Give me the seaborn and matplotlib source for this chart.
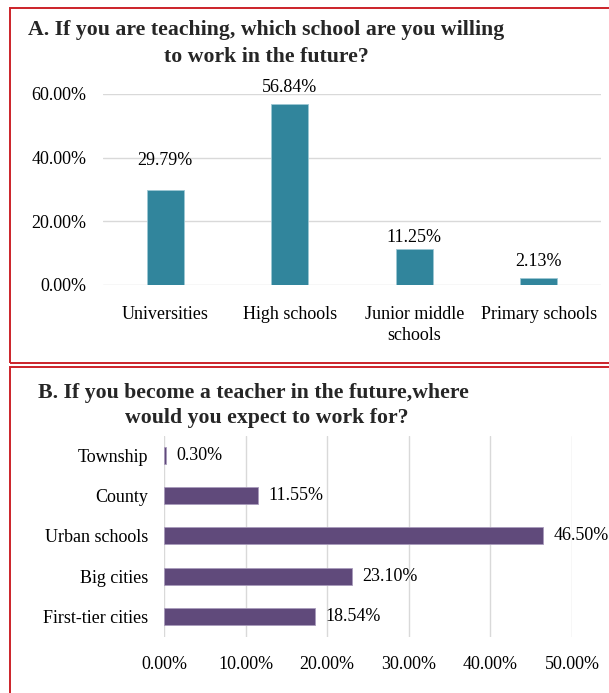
import matplotlib
matplotlib.use("Agg")
import matplotlib.pyplot as plt
import seaborn as sns
import pandas as pd
from matplotlib.patches import Rectangle
from matplotlib.ticker import FuncFormatter

# Panel A: preferred school level
school_types = ["Universities", "High schools", "Junior middle\nschools", "Primary schools"]
school_share = [29.79, 56.84, 11.25, 2.13]
school_ticks = [0, 20, 40, 60]

# Panel B: preferred work location
locations = ["Township", "County", "Urban schools", "Big cities", "First-tier cities"]
location_share = [0.30, 11.55, 46.50, 23.10, 18.54]
location_ticks = [0, 10, 20, 30, 40, 50]

sns.set_theme(style="white")
plt.rcParams["font.family"] = ["Liberation Serif", "DejaVu Serif"]

W, H = 609, 693
fig = plt.figure(figsize=(W / 100, H / 100), dpi=100)


def box(x0, y0, x1, y1):
    """Axes rectangle from pixel edges (top-left origin)."""
    return [x0 / W, 1 - y1 / H, (x1 - x0) / W, (y1 - y0) / H]


pct = FuncFormatter(lambda v, _: f"{v:.2f}%")
grid_color = "#D9D9D9"
teal = "#31859C"
purple = "#604A7B"
border_red = "#CC2229"
TICK_FS = 13
CAT_FS = 13
VAL_FS = 13
TITLE_FS = 15.7

# red frames around each panel
for (x0, y0, x1, y1) in [(10, 8, 640, 363), (10, 367, 640, 720)]:
    fig.patches.append(Rectangle((x0 / W, 1 - y1 / H), (x1 - x0) / W, (y1 - y0) / H,
                                 transform=fig.transFigure, fill=False,
                                 edgecolor=border_red, linewidth=1.4))

# ---------- Panel A ----------
df_a = pd.DataFrame({"type": school_types, "share": school_share})
ax1 = fig.add_axes(box(103, 94, 601, 285))
sns.barplot(data=df_a, x="type", y="share", order=school_types, color=teal,
            width=0.3, saturation=1, edgecolor="#9CC7D3", linewidth=0.6, ax=ax1)
ax1.set_ylim(0, 60)
ax1.set_yticks(school_ticks)
ax1.yaxis.set_major_formatter(pct)
ax1.set_xlim(-0.5, 3.5)
ax1.set_axisbelow(True)
ax1.grid(axis="y", color=grid_color, linewidth=1)
ax1.grid(axis="x", visible=False)
for s in ax1.spines.values():
    s.set_visible(False)
ax1.set_xlabel("")
ax1.set_ylabel("")
ax1.tick_params(axis="y", labelsize=TICK_FS, pad=12, length=0, colors="#000000")
ax1.tick_params(axis="x", labelsize=CAT_FS, pad=15, length=0, colors="#000000")
for lab in ax1.get_xticklabels():
    lab.set_verticalalignment("top")
    lab.set_linespacing(1.3)

label_lift = [30, 17, 12, 17]  # px above bar top to label centre
for i, v in enumerate(school_share):
    ax1.annotate(f"{v:.2f}%", xy=(i, v), xytext=(0, label_lift[i] * 0.72),
                 textcoords="offset points", ha="center", va="center",
                 fontsize=VAL_FS, color="#000000")

fig.text(266 / W, 1 - 30 / H, "A. If you are teaching, which school are you willing",
         ha="center", va="center", fontsize=TITLE_FS, fontweight="bold")
fig.text(266 / W, 1 - 57 / H, "to work in the future?",
         ha="center", va="center", fontsize=TITLE_FS, fontweight="bold")

# ---------- Panel B ----------
df_b = pd.DataFrame({"place": locations, "share": location_share})
ax2 = fig.add_axes(box(164, 436, 572, 637))
sns.barplot(data=df_b, y="place", x="share", order=locations, color=purple,
            orient="h", width=0.42, saturation=1, edgecolor="#A99BBB",
            linewidth=0.6, ax=ax2)
ax2.set_xlim(0, 50)
ax2.set_ylim(4.5, -0.47)
ax2.set_xticks(location_ticks)
ax2.xaxis.set_major_formatter(pct)
ax2.set_axisbelow(True)
ax2.grid(axis="x", color=grid_color, linewidth=1)
ax2.grid(axis="y", visible=False)
for s in ax2.spines.values():
    s.set_visible(False)
ax2.set_xlabel("")
ax2.set_ylabel("")
ax2.tick_params(axis="x", labelsize=TICK_FS, pad=14, length=0, colors="#000000")
ax2.tick_params(axis="y", labelsize=CAT_FS, pad=11.5, length=0, colors="#000000")
ax2.bar_label(ax2.containers[0], labels=[f"{v:.2f}%" for v in location_share],
              padding=7, fontsize=VAL_FS, color="#000000")

fig.text(253 / W, 1 - 393 / H, "B. If you become a teacher in the future,where",
         ha="center", va="center", fontsize=TITLE_FS, fontweight="bold")
fig.text(267 / W, 1 - 418 / H, "would you expect to work for?",
         ha="center", va="center", fontsize=TITLE_FS, fontweight="bold")

fig.savefig("out.png", dpi=100)
